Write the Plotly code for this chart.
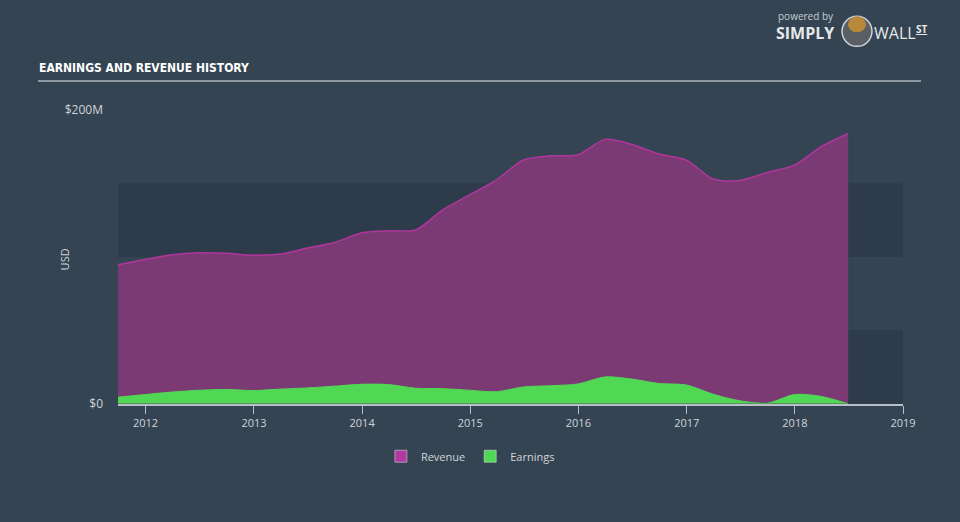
import plotly.graph_objects as go

dates = ["2011-09-30", "2011-12-31", "2012-03-31", "2012-06-30", "2012-09-30", "2012-12-31",
         "2013-03-31", "2013-06-30", "2013-09-30", "2013-12-31", "2014-03-31", "2014-06-30",
         "2014-09-30", "2014-12-31", "2015-03-31", "2015-06-30", "2015-09-30", "2015-12-31",
         "2016-03-31", "2016-06-30", "2016-09-30", "2016-12-31", "2017-03-31", "2017-06-30",
         "2017-09-30", "2017-12-31", "2018-03-31", "2018-06-30"]
revenue = [94.7, 98.3, 101.5, 102.8, 102.4, 101.2, 101.9, 106.0, 109.8, 116.4, 117.8, 118.3,
           132.0, 142.4, 152.5, 166.0, 168.8, 169.5, 180.0, 176.5, 170.0, 165.8, 153.0, 152.0,
           157.5, 162.5, 175.0, 184.0]
earnings = [4.5, 6.3, 8.0, 9.2, 9.8, 9.0, 10.0, 10.8, 12.0, 13.3, 13.1, 10.6, 10.3, 9.2,
            8.2, 11.5, 12.3, 13.5, 18.3, 16.8, 13.8, 12.8, 6.5, 2.0, 0.4, 6.3, 5.0, 0.0]
year_ticks = ["2012-01-01", "2013-01-01", "2014-01-01", "2015-01-01", "2016-01-01",
              "2017-01-01", "2018-01-01", "2019-01-01"]
year_labels = ["2012", "2013", "2014", "2015", "2016", "2017", "2018", "2019"]
y_ticks = [0, 200]
y_labels = ["$0", "$200M"]
band_edges = [0, 50, 100, 150]

BG = "#344453"
DARK = "#2d3b4a"
REV_FILL = "#7b3a74"
REV_LINE = "#b0369c"
REV_SW = "#b03aa0"
EARN = "#50d854"
TXT = "#d0d4d8"
FONT = "Open Sans"

L, T, W, H = 118, 110, 785, 295


def px(x):
    return (x - L) / W


def py(y):
    return 1 - (y - T) / H


fig = go.Figure()

fig.add_trace(go.Scatter(x=dates, y=revenue, mode="lines", line=dict(color=REV_LINE, width=1.5, shape="spline", smoothing=0.8),
                         fill="tozeroy", fillcolor=REV_FILL, showlegend=False, hoverinfo="skip"))
fig.add_trace(go.Scatter(x=dates, y=earnings, mode="lines", line=dict(color=EARN, width=1, shape="spline", smoothing=0.8),
                         fill="tozeroy", fillcolor=EARN, showlegend=False, hoverinfo="skip"))
fig.add_trace(go.Bar(x=[None], y=[None], name="Revenue", marker=dict(color=REV_SW)))
fig.add_trace(go.Bar(x=[None], y=[None], name="Earnings", marker=dict(color=EARN)))

shapes = []
for i in range(len(band_edges) - 1):
    if i % 2 == 0:
        shapes.append(dict(type="rect", xref="paper", yref="y", x0=0, x1=1, y0=band_edges[i], y1=band_edges[i + 1],
                           fillcolor=DARK, line=dict(width=0), layer="below"))
# title underline
shapes.append(dict(type="line", xref="paper", yref="paper", x0=px(38), x1=px(921), y0=py(81), y1=py(81),
                   line=dict(color="#8d98a3", width=2)))
fig.update_layout(shapes=shapes)

# logo
fig.add_shape(type="circle", xref="paper", yref="paper", xsizemode="pixel", ysizemode="pixel",
              xanchor=px(857), yanchor=py(31), x0=-15, x1=15, y0=-15, y1=15,
              fillcolor="#5a5f66", line=dict(color="#cfd3d6", width=1.5))
fig.add_shape(type="circle", xref="paper", yref="paper", xsizemode="pixel", ysizemode="pixel",
              xanchor=px(857), yanchor=py(24), x0=-9, x1=9, y0=-8, y1=8,
              fillcolor="#b8893a", line=dict(width=0))

annotations = [
    dict(text="<b>EARNINGS AND REVENUE HISTORY</b>", xref="paper", yref="paper",
         x=px(37), y=py(68), xanchor="left", yanchor="middle", showarrow=False,
         font=dict(family="Liberation Sans Narrow, DejaVu Sans Condensed, Roboto", size=12, color="#ffffff")),
    dict(text="powered by", xref="paper", yref="paper", x=px(776), y=py(16),
         xanchor="left", yanchor="middle", showarrow=False, font=dict(family=FONT, size=10, color="#c8ccd0")),
    dict(text="<b>SIMPLY</b>", xref="paper", yref="paper", x=px(774), y=py(33),
         xanchor="left", yanchor="middle", showarrow=False, font=dict(family=FONT, size=16, color="#e6e8ea")),
    dict(text="WALL", xref="paper", yref="paper", x=px(872), y=py(33),
         xanchor="left", yanchor="middle", showarrow=False, font=dict(family=FONT, size=16, color="#e6e8ea")),
    dict(text="<b><u>ST</u></b>", xref="paper", yref="paper", x=px(914), y=py(29),
         xanchor="left", yanchor="middle", showarrow=False, font=dict(family=FONT, size=10, color="#e6e8ea")),
    dict(text="USD", xref="paper", yref="paper", x=px(64), y=py(260), textangle=-90,
         xanchor="center", yanchor="middle", showarrow=False, font=dict(family=FONT, size=11, color=TXT)),
]
fig.update_layout(annotations=annotations)

fig.update_layout(
    width=960, height=522,
    margin=dict(l=L, r=960 - L - W, t=T, b=522 - T - H),
    paper_bgcolor=BG, plot_bgcolor=BG,
    font=dict(family=FONT, color=TXT, size=12),
    showlegend=True,
    legend=dict(orientation="h", xref="container", yref="container", x=0.49, y=0.126,
                xanchor="center", yanchor="middle", font=dict(family=FONT, size=11, color=TXT),
                bgcolor="rgba(0,0,0,0)", itemwidth=30),
    xaxis=dict(type="date", range=["2011-09-30", "2019-01-01"], tickvals=year_ticks, ticktext=year_labels,
               showgrid=False, zeroline=False, showline=True, linecolor="#b8bfc6", linewidth=1.5,
               ticks="outside", ticklen=8, tickcolor="#b8bfc6", tickwidth=1,
               tickfont=dict(family=FONT, size=11, color=TXT)),
    yaxis=dict(range=[0, 200], tickvals=y_ticks, ticktext=y_labels, showgrid=False, zeroline=False,
               showline=False, ticks="", ticklabelstandoff=14, tickfont=dict(family=FONT, size=12, color=TXT)),
)

fig.write_html("out.html")
